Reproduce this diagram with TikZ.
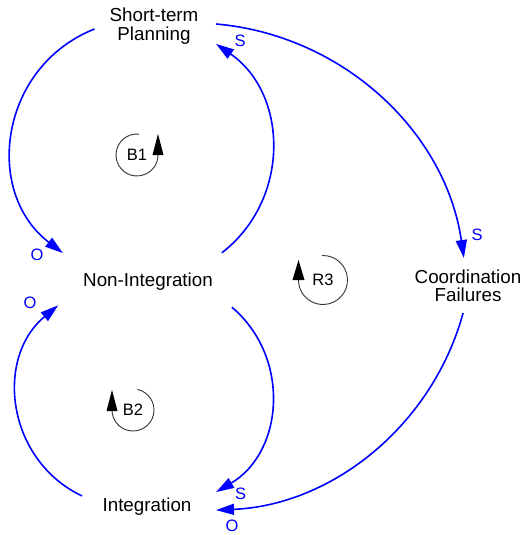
\documentclass[tikz,border=0pt]{standalone}
\usepackage{fontspec}
\setmainfont{Liberation Sans}
\usetikzlibrary{arrows.meta}
\tikzset{
  var/.style={font=\fontsize{18.8}{18.4}\selectfont, align=center, inner sep=0pt, text=black},
  link/.style={draw=blue, line width=1.6pt, -{Triangle[length=18pt,width=11pt]}},
  pol/.style={text=blue, font=\fontsize{16.5}{18}\selectfont, inner sep=0pt},
  loopc/.style={draw=black!80, line width=0.9pt},
  looplbl/.style={font=\fontsize{16.5}{18}\selectfont, inner sep=0pt, text=black},
  loophead/.style={fill=black}
}
\begin{document}
\begin{tikzpicture}[x=1pt,y=-1pt]
\useasboundingbox (0,0) rectangle (523,535);
% variables
\node[var] (stp) at (154,26) {Short-term\\Planning};
\node[var] (ni) at (148,282) {Non-Integration};
\node[var] (integ) at (147,507) {Integration};
\node[var] (cf) at (468,286) {Coordination\\Failures};
% links
\draw[link] ([shift={(-59.4,3)}]stp.center) .. controls +(-94.3,37.0) and +(-80.4,-61.7) .. ([shift={(-85.1,-28.9)}]ni.center);
\draw[link] ([shift={(73.9,-29.2)}]ni.center) .. controls +(69.2,-53.7) and +(72.1,49.8) .. ([shift={(62,17.9)}]stp.center);
\draw[link] ([shift={(83.9,25.2)}]ni.center) .. controls +(59.6,50.7) and +(67.4,-39.9) .. ([shift={(69,-14.9)}]integ.center);
\draw[link] ([shift={(-64.9,-11)}]integ.center) .. controls +(-75.2,-35.7) and +(-64.0,53.2) .. ([shift={(-89.8,23.3)}]ni.center);
\draw[link] ([shift={(62,-2)}]stp.center) .. controls +(126.9,11.0) and +(-18.3,-126.1) .. ([shift={(-4.1,-28)}]cf.center);
\draw[link] ([shift={(-4.9,27)}]cf.center) .. controls +(-30.8,112.4) and +(116.4,-5.0) .. ([shift={(69,3.1)}]integ.center);
% polarities
\node[pol] (p1) at (37,255) {O};
\node[pol] (p2) at (240,41) {S};
\node[pol] (p3) at (240.5,493.5) {S};
\node[pol] (p4) at (30,303) {O};
\node[pol] (p5) at (477,235) {S};
\node[pol] (p6) at (232,526) {O};
% loop markers
\node[looplbl] (b1) at (137,155) {B1};
\draw[loopc] ([shift={(275:21)}]b1.center) arc[start angle=275, end angle=0, radius=21];
\fill[loophead] ([shift={(21,-21)}]b1.center) -- ([shift={(15.5,0)}]b1.center) -- ([shift={(26.5,0)}]b1.center) -- cycle;
\node[looplbl] (b2) at (133,410) {B2};
\draw[loopc] ([shift={(-78:21)}]b2.center) arc[start angle=-78, end angle=180, radius=21];
\fill[loophead] ([shift={(-21,-20)}]b2.center) -- ([shift={(-26.5,1)}]b2.center) -- ([shift={(-15.5,1)}]b2.center) -- cycle;
\node[looplbl] (r3) at (323,280) {R3};
\draw[loopc] ([shift={(-92:24.5)}]r3.center) arc[start angle=-92, end angle=180, radius=24.5];
\fill[loophead] ([shift={(-24.5,-20)}]r3.center) -- ([shift={(-30.5,0)}]r3.center) -- ([shift={(-18.5,0)}]r3.center) -- cycle;
\end{tikzpicture}
\end{document}
